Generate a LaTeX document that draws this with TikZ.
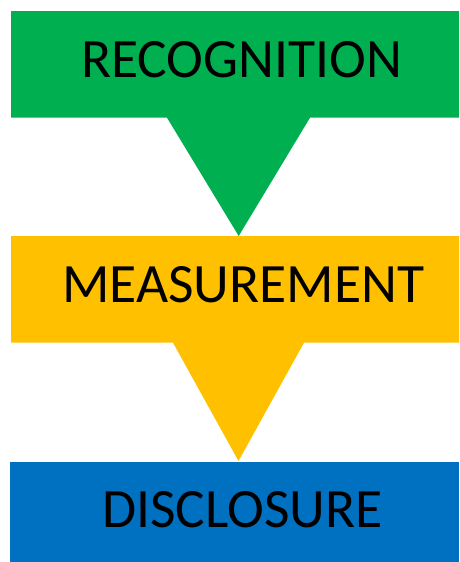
\documentclass[tikz,border=0pt]{standalone}
\usepackage{fontspec}
\setmainfont{Carlito}
\definecolor{recgreen}{HTML}{00B050}
\definecolor{measyellow}{HTML}{FFC000}
\definecolor{discblue}{HTML}{0070C0}
\begin{document}
\begin{tikzpicture}[x=1pt,y=-1pt,
  lbl/.style={anchor=base,inner sep=0pt,font=\fontsize{55.5}{60}\selectfont,text=black}]
\useasboundingbox (0,0) rectangle (459,562);
\fill[recgreen] (11,11) -- (459,11) -- (459,117.7) -- (310,117.7) -- (238.7,236) -- (167,117.7) -- (11,117.7) -- cycle;
\fill[measyellow] (11,236) -- (459,236) -- (459,342.7) -- (304,342.7) -- (238.5,461) -- (173,342.7) -- (11,342.7) -- cycle;
\fill[discblue] (10,462) rectangle (459,562);
\node[lbl] (rec) at (241.5,77.7) {RECOGNITION};
\node[lbl] (meas) at (243.3,302.7) {MEASUREMENT};
\node[lbl] (disc) at (242.5,527.7) {DISCLOSURE};
\end{tikzpicture}
\end{document}
